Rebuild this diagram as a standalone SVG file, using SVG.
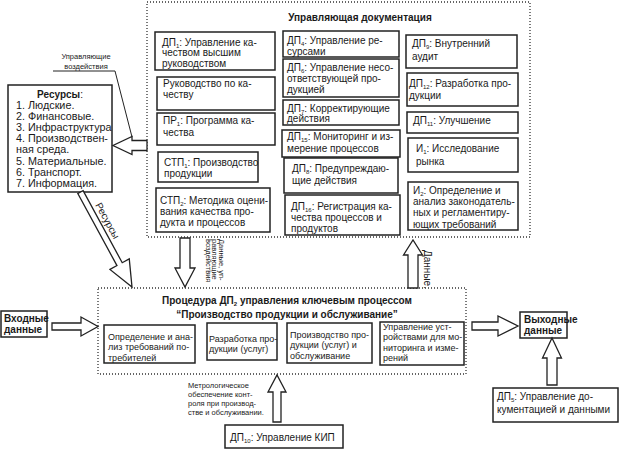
<svg xmlns="http://www.w3.org/2000/svg" width="621" height="450" viewBox="0 0 621 450">
<style>
.t{font-family:"Liberation Sans",Arial,sans-serif;font-size:10px;fill:#1a1a1a}
.b{font-weight:bold}
.sm{font-size:7.5px}
.in{font-size:9px}
.s{font-size:6px}
.r{font-size:10.8px}
.box{fill:#fff;stroke:#222;stroke-width:1.5}
.dot{fill:none;stroke:#333;stroke-width:1.3;stroke-dasharray:1 2}
.arr{fill:#fff;stroke:#222;stroke-width:1.3;stroke-linejoin:miter}
.ln{fill:none;stroke:#222;stroke-width:1}
</style>
<rect width="621" height="450" fill="#fff"/>

<g id="upr-doc">
<rect class="dot" x="147" y="2" width="383" height="235"/>
<text class="t b" x="360" y="21" text-anchor="middle" font-size="11.8">Управляющая документация</text>
</g>

<g id="dp1"><rect class="box" x="155" y="32" width="120" height="38"/>
<text class="t" x="162" y="45.5">ДП<tspan class="s" dy="2">1</tspan><tspan dy="-2">: Управление ка-</tspan></text>
<text class="t" x="162" y="56.3">чеством высшим</text>
<text class="t" x="162" y="67">руководством</text></g>

<g id="rk"><rect class="box" x="157" y="77" width="118" height="33"/>
<text class="t" x="163" y="87">Руководство по ка-</text>
<text class="t" x="163" y="98">честву</text></g>

<g id="pr1"><rect class="box" x="157" y="113" width="118" height="32"/>
<text class="t" x="163" y="124">ПР<tspan class="s" dy="2">1</tspan><tspan dy="-2">: Программа ка-</tspan></text>
<text class="t" x="163" y="136">чества</text></g>

<g id="stp1"><rect class="box" x="158" y="152" width="100" height="30"/>
<text class="t" x="164" y="165.5">СТП<tspan class="s" dy="2">1</tspan><tspan dy="-2">: Производство</tspan></text>
<text class="t" x="164" y="177">продукции</text></g>

<g id="stp2"><rect class="box" x="156" y="188" width="114" height="44"/>
<text class="t" x="160" y="203.5">СТП<tspan class="s" dy="2">2</tspan><tspan dy="-2">: Методика оцени-</tspan></text>
<text class="t" x="160" y="214.5">вания качества про-</text>
<text class="t" x="160" y="225.5">дукта и процессов</text></g>

<g id="dp4"><rect class="box" x="283" y="31" width="116" height="26"/>
<text class="t" x="287" y="44">ДП<tspan class="s" dy="2">4</tspan><tspan dy="-2">: Управление ре-</tspan></text>
<text class="t" x="287" y="54.5">сурсами</text></g>

<g id="dp6"><rect class="box" x="283" y="59" width="116" height="38"/>
<text class="t" x="287" y="70.5">ДП<tspan class="s" dy="2">6</tspan><tspan dy="-2">: Управление несо-</tspan></text>
<text class="t" x="287" y="81.8">ответствующей про-</text>
<text class="t" x="287" y="93">дукцией</text></g>

<g id="dp7"><rect class="box" x="283" y="100" width="116" height="25"/>
<text class="t" x="287" y="111.5">ДП<tspan class="s" dy="2">7</tspan><tspan dy="-2">: Корректирующие</tspan></text>
<text class="t" x="287" y="122">действия</text></g>

<g id="dp15"><rect class="box" x="282" y="130" width="118" height="27"/>
<text class="t" x="287" y="140">ДП<tspan class="s" dy="2">15</tspan><tspan dy="-2">: Мониторинг и из-</tspan></text>
<text class="t" x="287" y="152">мерение процессов</text></g>

<g id="dp8"><rect class="box" x="284" y="158" width="114" height="35"/>
<text class="t" x="292" y="172">ДП<tspan class="s" dy="2">8</tspan><tspan dy="-2">: Предупреждаю-</tspan></text>
<text class="t" x="292" y="184">щие действия</text></g>

<g id="dp16"><rect class="box" x="285" y="195" width="115" height="40"/>
<text class="t" x="291" y="209.5">ДП<tspan class="s" dy="2">16</tspan><tspan dy="-2">: Регистрация ка-</tspan></text>
<text class="t" x="291" y="220.5">чества процессов и</text>
<text class="t" x="291" y="231.5">продуктов</text></g>

<g id="dp9"><rect class="box" x="406" y="35" width="111" height="33"/>
<text class="t" x="412" y="47">ДП<tspan class="s" dy="2">9</tspan><tspan dy="-2">: Внутренний</tspan></text>
<text class="t" x="412" y="60">аудит</text></g>

<g id="dp12"><rect class="box" x="407" y="73" width="111" height="33"/>
<text class="t" x="409" y="86.5">ДП<tspan class="s" dy="2">12</tspan><tspan dy="-2">: Разработка про-</tspan></text>
<text class="t" x="409" y="98.5">дукции</text></g>

<g id="dp11"><rect class="box" x="407" y="112" width="111" height="21"/>
<text class="t" x="413" y="123.5">ДП<tspan class="s" dy="2">11</tspan><tspan dy="-2">: Улучшение</tspan></text></g>

<g id="i1"><rect class="box" x="408" y="138" width="110" height="34"/>
<text class="t" x="416" y="152">И<tspan class="s" dy="2">1</tspan><tspan dy="-2">: Исследование</tspan></text>
<text class="t" x="416" y="165">рынка</text></g>

<g id="i2"><rect class="box" x="408" y="182" width="110" height="48"/>
<text class="t" x="413" y="193.5">И<tspan class="s" dy="2">2</tspan><tspan dy="-2">: Определение и</tspan></text>
<text class="t" x="413" y="205">анализ законодатель-</text>
<text class="t" x="413" y="216">ных и регламентиру-</text>
<text class="t" x="413" y="227.5">ющих требований</text></g>

<g id="resources"><rect class="box" x="8" y="85" width="104" height="107"/>
<text class="t" x="60" y="97.5" text-anchor="middle" font-size="11.5"><tspan font-weight="bold">Ресурсы</tspan>:</text>
<text class="t r" x="16" y="108.5">1. Людские.</text>
<text class="t r" x="16" y="119.7">2. Финансовые.</text>
<text class="t r" x="16" y="130.9">3. Инфраструктура</text>
<text class="t r" x="16" y="142.1">4. Производствен-</text>
<text class="t r" x="16" y="153.3">ная среда.</text>
<text class="t r" x="16" y="164.5">5. Материальные.</text>
<text class="t r" x="16" y="175.7">6. Транспорт.</text>
<text class="t r" x="16" y="186.9">7. Информация.</text></g>

<g id="procedure">
<rect class="dot" x="98" y="288" width="368" height="86"/>
<text class="t b" x="287" y="304" text-anchor="middle" font-size="11.4">Процедура ДП<tspan class="s" dy="2">2</tspan><tspan dy="-2"> управления ключевым процессом</tspan></text>
<text class="t b" x="287" y="318" text-anchor="middle" font-size="11.4">“Производство продукции и обслуживание”</text>
</g>

<g id="proc-a"><rect class="box" x="104" y="325" width="91" height="38"/>
<text class="t in" x="108" y="340">Определение и ана-</text>
<text class="t in" x="108" y="350.3">лиз требований по-</text>
<text class="t in" x="108" y="360.5">требителей</text></g>

<g id="proc-b"><rect class="box" x="207" y="323" width="70" height="37"/>
<text class="t in" x="209" y="341.5">Разработка про-</text>
<text class="t in" x="209" y="351.8">дукции (услуг)</text></g>

<g id="proc-c"><rect class="box" x="287" y="323" width="85" height="40"/>
<text class="t in" x="290" y="337.5">Производство про-</text>
<text class="t in" x="290" y="348.3">дукции (услуг) и</text>
<text class="t in" x="290" y="359">обслуживание</text></g>

<g id="proc-d"><rect class="box" x="380" y="322" width="84" height="43"/>
<text class="t in" x="383" y="330">Управление уст-</text>
<text class="t in" x="383" y="340">ройствами для мо-</text>
<text class="t in" x="383" y="350.5">ниторинга и изме-</text>
<text class="t in" x="383" y="360.5">рений</text></g>

<g id="input"><rect class="box" x="1" y="311" width="46" height="26"/>
<text class="t b" x="4" y="322" font-size="9.5">Входные</text>
<text class="t b" x="4" y="333" font-size="9.5">данные</text></g>

<g id="output"><rect class="box" x="520" y="312" width="47" height="26"/>
<text class="t b" x="524" y="323" font-size="9.5">Выходные</text>
<text class="t b" x="524" y="334" font-size="9.5">данные</text></g>

<g id="dp5"><rect class="box" x="493" y="388" width="125" height="34"/>
<text class="t" x="497" y="399.5">ДП<tspan class="s" dy="2">5</tspan><tspan dy="-2">: Управление до-</tspan></text>
<text class="t" x="497" y="413">кументацией и данными</text></g>

<g id="dp10"><rect class="box" x="225" y="425" width="118" height="23"/>
<text class="t" x="230" y="441" font-size="10.5">ДП<tspan class="s" dy="2">10</tspan><tspan dy="-2">: Управление КИП</tspan></text></g>

<g id="connectors">
<polyline class="ln" points="53,71 115,71 132,137"/>
<polygon class="arr" points="147,140.5 132,140.5 132,136.5 113,145.5 132,154.5 132,150.5 147,150.5"/>
<polygon class="arr" transform="translate(132,287) rotate(61.5)" points="-108,-3 -26,-3 -26,-11 0,0 -26,11 -26,3 -108,3"/>
<polygon class="arr" points="180,238 190,238 190,268 195,268 185,287 175,268 180,268"/>
<polygon class="arr" points="408,288 418,288 418,255 422.5,255 413,240 403.5,255 408,255"/>
<polygon class="arr" points="52,323 81,323 81,317 98,326.5 81,336 81,330 52,330"/>
<polygon class="arr" points="472,322 498,322 498,316 518,326 498,336 498,330 472,330"/>
<polygon class="arr" points="547,385 557,385 557,358 561.5,358 552,338 542.5,358 547,358"/>
<polygon class="arr" points="273,422 281,422 281,392 286,392 277,375 268,392 273,392"/>
<text class="t sm" x="86" y="59" text-anchor="middle">Управляющие</text>
<text class="t sm" x="86" y="69" text-anchor="middle">воздействия</text>
<text class="t" font-size="8" transform="translate(95,205) rotate(61.5)">Ресурсы</text>
<text class="t sm" transform="translate(218.5,239) rotate(90)">Данные, уп-</text>
<text class="t sm" transform="translate(212,239) rotate(90)">равляющие</text>
<text class="t sm" transform="translate(205.5,239) rotate(90)">воздействия</text>
<text class="t" font-size="8" transform="translate(424,250) rotate(90)">Данные.</text>
<text class="t sm" x="188" y="387.7">Метрологическое</text>
<text class="t sm" x="188" y="397">обеспечение конт-</text>
<text class="t sm" x="188" y="406">роля при производ-</text>
<text class="t sm" x="188" y="415">стве и обслуживании.</text>
</g>
</svg>
